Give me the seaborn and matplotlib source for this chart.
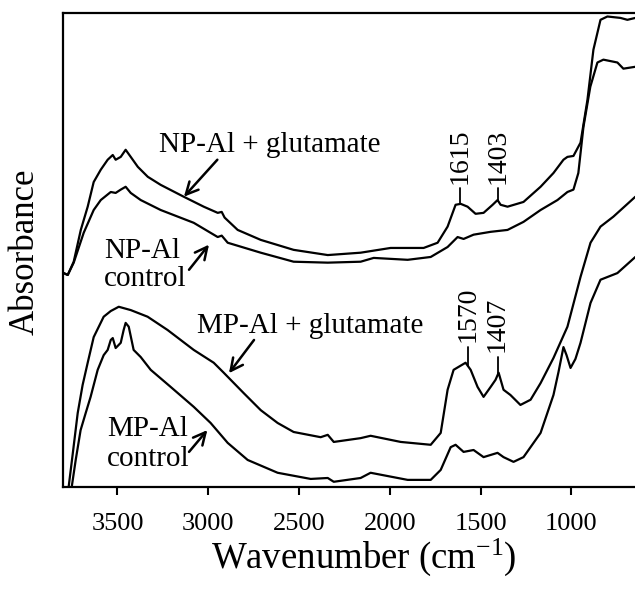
import numpy as np
import pandas as pd
import matplotlib
matplotlib.use("Agg")
import matplotlib.pyplot as plt
import seaborn as sns

# ---------------- data ----------------
wn_np_glu = [3796, 3774, 3741, 3702, 3664, 3631, 3592, 3554, 3526, 3510, 3482, 3455,
             3427, 3388, 3333, 3262, 3135, 3025, 2948, 2926, 2910, 2838, 2711, 2530,
             2342, 2161, 1996, 1814, 1737, 1682, 1638, 1610, 1572, 1528, 1484, 1434,
             1407, 1390, 1352, 1264, 1170, 1099, 1044, 1022, 989, 950, 912, 879, 840,
             802, 730, 692, 648]
abs_np_glu = [0.451, 0.447, 0.475, 0.542, 0.591, 0.643, 0.669, 0.690, 0.700, 0.690,
              0.696, 0.711, 0.696, 0.675, 0.654, 0.637, 0.612, 0.591, 0.578, 0.580,
              0.568, 0.542, 0.521, 0.500, 0.489, 0.494, 0.504, 0.504, 0.515, 0.549,
              0.595, 0.597, 0.591, 0.576, 0.578, 0.595, 0.605, 0.595, 0.591, 0.601,
              0.633, 0.662, 0.690, 0.696, 0.698, 0.726, 0.816, 0.922, 0.985, 0.992,
              0.989, 0.985, 0.989]

wn_np_ctrl = [3796, 3774, 3741, 3686, 3631, 3592, 3537, 3510, 3482, 3455, 3427, 3372,
              3262, 3080, 2948, 2926, 2893, 2711, 2530, 2342, 2161, 2089, 1902, 1775,
              1682, 1627, 1594, 1539, 1445, 1352, 1264, 1170, 1077, 1022, 989, 962, 934,
              896, 857, 824, 747, 714, 648]
abs_np_ctrl = [0.451, 0.447, 0.473, 0.536, 0.584, 0.605, 0.622, 0.620, 0.627, 0.633,
               0.620, 0.605, 0.584, 0.557, 0.527, 0.530, 0.515, 0.494, 0.475, 0.473,
               0.475, 0.483, 0.479, 0.485, 0.506, 0.527, 0.523, 0.532, 0.538, 0.542,
               0.559, 0.584, 0.605, 0.622, 0.627, 0.662, 0.759, 0.844, 0.895, 0.901,
               0.895, 0.882, 0.886]

wn_mp_glu = [3796, 3769, 3747, 3719, 3692, 3664, 3631, 3576, 3537, 3493, 3427, 3334,
             3224, 3080, 2970, 2915, 2805, 2711, 2618, 2530, 2381, 2342, 2309, 2161,
             2106, 1940, 1775, 1720, 1682, 1649, 1583, 1555, 1517, 1484, 1445, 1418,
             1401, 1374, 1336, 1281, 1225, 1170, 1099, 1022, 950, 895, 840, 769, 648]
abs_mp_glu = [-0.049, 0.000, 0.068, 0.156, 0.215, 0.262, 0.316, 0.359, 0.371, 0.380,
              0.373, 0.359, 0.331, 0.289, 0.262, 0.241, 0.198, 0.162, 0.135, 0.116,
              0.105, 0.110, 0.095, 0.103, 0.108, 0.095, 0.089, 0.114, 0.205, 0.247,
              0.262, 0.247, 0.211, 0.190, 0.211, 0.226, 0.241, 0.205, 0.194, 0.173,
              0.184, 0.219, 0.272, 0.338, 0.443, 0.515, 0.549, 0.570, 0.612]

wn_mp_ctrl = [3796, 3752, 3730, 3703, 3675, 3648, 3609, 3576, 3554, 3537, 3526, 3510,
              3482, 3466, 3455, 3438, 3411, 3372, 3317, 3207, 3080, 2987, 2893, 2783,
              2618, 2436, 2342, 2309, 2161, 2106, 1902, 1775, 1720, 1665, 1638, 1594,
              1539, 1484, 1407, 1374, 1319, 1264, 1170, 1099, 1071, 1044, 1027, 1005,
              978, 950, 895, 840, 747, 648]
abs_mp_ctrl = [-0.049, 0.000, 0.057, 0.120, 0.156, 0.190, 0.247, 0.278, 0.289, 0.310,
               0.314, 0.293, 0.304, 0.331, 0.346, 0.338, 0.289, 0.274, 0.247, 0.211,
               0.169, 0.135, 0.093, 0.057, 0.030, 0.017, 0.019, 0.011, 0.019, 0.030,
               0.015, 0.015, 0.036, 0.084, 0.089, 0.074, 0.078, 0.063, 0.072, 0.063,
               0.053, 0.063, 0.114, 0.194, 0.243, 0.295, 0.278, 0.251, 0.270, 0.304,
               0.388, 0.437, 0.451, 0.485]

np_peaks = [1615, 1403]
np_peak_tops = [0.631, 0.631]
mp_peaks = [1570, 1407]
mp_peak_tops = [0.296, 0.275]

x_ticks = [3500, 3000, 2500, 2000, 1500, 1000]

# ---------------- build long table ----------------
series = {
    "NP-Al + glutamate": (wn_np_glu, abs_np_glu),
    "NP-Al control": (wn_np_ctrl, abs_np_ctrl),
    "MP-Al + glutamate": (wn_mp_glu, abs_mp_glu),
    "MP-Al control": (wn_mp_ctrl, abs_mp_ctrl),
}
frames = []
for name, (w, a) in series.items():
    frames.append(pd.DataFrame({"wavenumber": w, "absorbance": a, "sample": name}))
df = pd.concat(frames, ignore_index=True)

# ---------------- style ----------------
sns.set_style("ticks")
plt.rcParams["font.family"] = ["Liberation Serif", "DejaVu Serif"]
plt.rcParams["mathtext.fontset"] = "custom"
plt.rcParams["mathtext.rm"] = "Liberation Serif"
plt.rcParams["mathtext.it"] = "Liberation Serif:italic"
plt.rcParams["text.color"] = "black"
plt.rcParams["axes.labelcolor"] = "black"
plt.rcParams["xtick.color"] = "black"
plt.rcParams["xtick.labelcolor"] = "black"

fig = plt.figure(figsize=(6.35, 5.95), dpi=100)
ax = fig.add_axes([63 / 635, 108 / 595, 572 / 635, 474.3 / 595])

sns.lineplot(data=df, x="wavenumber", y="absorbance", hue="sample",
             palette=["black"] * 4, sort=False, estimator=None, legend=False,
             linewidth=1.6, ax=ax)

ax.set_xlim(3800, 650)
ax.set_ylim(0, 1)
ax.set_xticks(x_ticks)
ax.set_xticklabels([str(t) for t in x_ticks])
ax.set_yticks([])
ax.tick_params(axis="x", direction="out", length=6, width=1.5, labelsize=19, pad=12.5,
               top=False, colors="black", labelcolor="black")
for side in ["left", "bottom", "top"]:
    ax.spines[side].set_linewidth(1.6)
    ax.spines[side].set_color("black")
ax.spines["right"].set_visible(False)

ax.set_xlabel("Wavenumber (cm$^{\\mathregular{-1}}$)", fontsize=26.5, color="black")
ax.set_ylabel("Absorbance", fontsize=25, color="black")
ax.xaxis.set_label_coords(0.526, -0.105)
ax.yaxis.set_label_coords(-0.037, 0.496)

# ---------------- peak markers ----------------
def mark_peaks(wn, ab, peaks, tops):
    wn_a = np.asarray(wn)[::-1]
    ab_a = np.asarray(ab)[::-1]
    for p, top in zip(peaks, tops):
        y0 = np.interp(p, wn_a, ab_a)
        ax.plot([p, p], [y0, top], color="black", lw=1.3)
        ax.annotate(str(p), xy=(p, top), xytext=(0, 3), textcoords="offset points",
                    rotation=90, ha="center", va="bottom", fontsize=20, color="black")

mark_peaks(wn_np_glu, abs_np_glu, np_peaks, np_peak_tops)
mark_peaks(wn_mp_glu, abs_mp_glu, mp_peaks, mp_peak_tops)

# ---------------- sample labels with arrows ----------------
arrow_kw = dict(arrowstyle="->", color="black", lw=1.8, mutation_scale=22,
                shrinkA=0, shrinkB=0)
ax.text(3271, 0.707, "NP-Al + glutamate", fontsize=21, ha="left", va="baseline",
        color="black")
ax.annotate("", xy=(3134, 0.612), xytext=(2950, 0.690), arrowprops=arrow_kw)

ax.text(3574, 0.423, "NP-Al\ncontrol", fontsize=21, ha="left", va="baseline",
        linespacing=1.1, color="black")
ax.annotate("", xy=(2996, 0.511), xytext=(3106, 0.458), arrowprops=arrow_kw)

ax.text(3060, 0.324, "MP-Al + glutamate", fontsize=21, ha="left", va="baseline",
        color="black")
ax.annotate("", xy=(2886, 0.240), xytext=(2748, 0.310), arrowprops=arrow_kw)

ax.text(3556, 0.044, "MP-Al\ncontrol", fontsize=21, ha="left", va="baseline",
        linespacing=1.2, color="black")
ax.annotate("", xy=(3005, 0.120), xytext=(3106, 0.074), arrowprops=arrow_kw)

fig.savefig("out.png", dpi=100)
